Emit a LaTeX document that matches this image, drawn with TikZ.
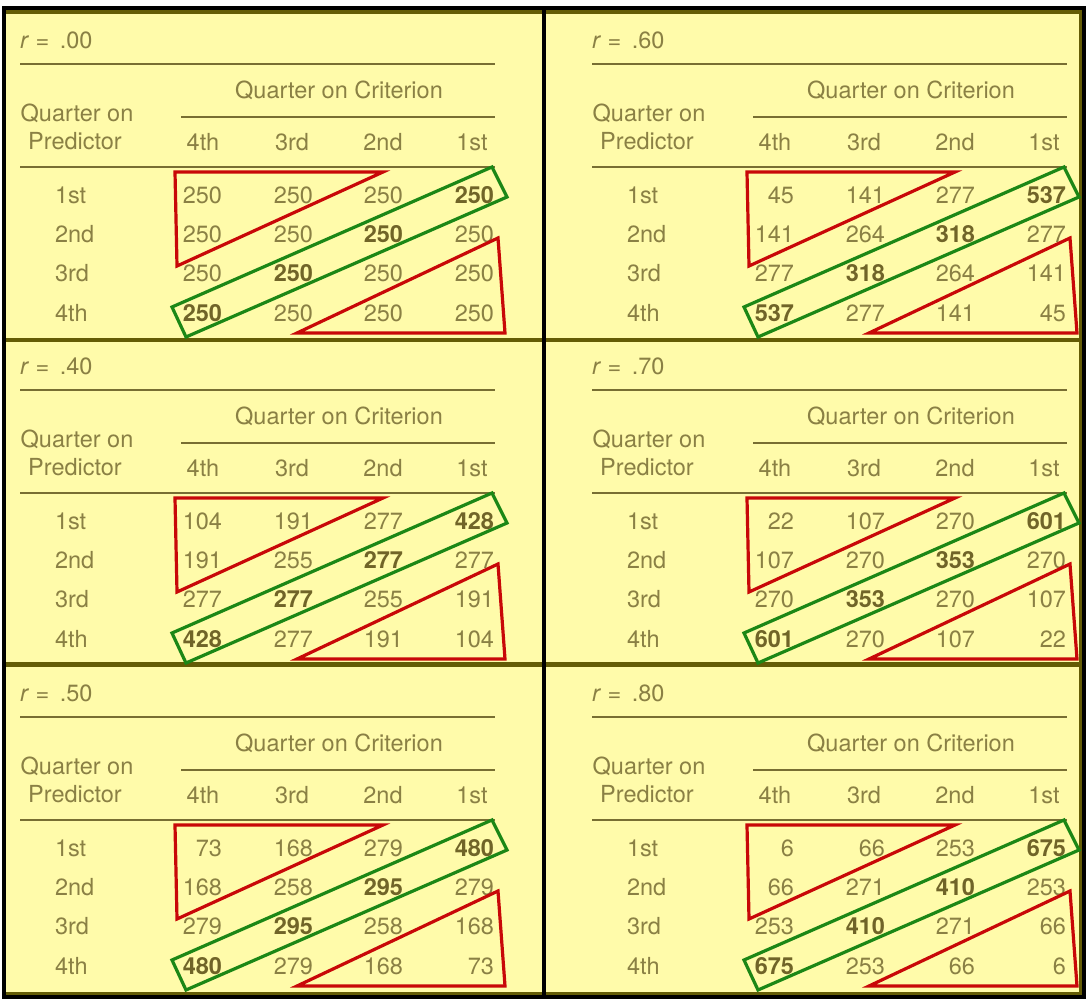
\documentclass[tikz,border=0pt]{standalone}
\usepackage{fontspec}
\setmainfont{TeX Gyre Heros}
\definecolor{bg}{RGB}{255,251,170}
\definecolor{txt}{RGB}{138,128,68}
\definecolor{btxt}{RGB}{112,100,40}
\definecolor{rulec}{RGB}{120,110,50}
\definecolor{olive}{RGB}{100,92,5}
\definecolor{redline}{RGB}{200,8,8}
\definecolor{greenline}{RGB}{28,135,22}
\tikzset{
  lbl/.style={inner sep=0pt, outer sep=0pt, text=txt, font=\fontsize{23.5}{28}\selectfont},
  numr/.style={lbl, anchor=base east},
  hdr/.style={lbl, anchor=base},
  rowlbl/.style={lbl, anchor=base west},
  tabrule/.style={draw=rulec, line width=1.6pt},
  redtri/.style={draw=redline, line width=3.2pt, line join=miter},
  greenbox/.style={draw=greenline, line width=3.2pt, line join=miter},
  panelframe/.style={draw=olive, line width=4.5pt},
}
\newcommand\B[1]{{\bfseries\color{btxt}#1}}
\newcommand\qrow[8]{%
  \node[rowlbl] (#1-p#2) at (55,#4) {#3};
  \node[numr] (#1-#2a) at (222,#4) {#5};
  \node[numr] (#1-#2b) at (313,#4) {#6};
  \node[numr] (#1-#2c) at (403,#4) {#7};
  \node[numr] (#1-#2d) at (494,#4) {#8};
}
\newcommand\qhead[2]{%
  \node[lbl, anchor=base west] (#1-r) at (20,48) {\textit{r} = \kern4pt.#2};
  \draw[tabrule] (20,64) -- (495,64);
  \node[hdr] (#1-qc) at (339,98) {Quarter on Criterion};
  \draw[tabrule] (181,117) -- (495,117);
  \node[hdr] (#1-q1) at (77,121) {Quarter on};
  \node[hdr] (#1-q2) at (75,149) {Predictor};
  \node[hdr] (#1-h4) at (203,150) {4th};
  \node[hdr] (#1-h3) at (292,150) {3rd};
  \node[hdr] (#1-h2) at (383,150) {2nd};
  \node[hdr] (#1-h1) at (472,150) {1st};
  \draw[tabrule] (20,167) -- (495,167);
}
\newcommand\qmarks{%
  \draw[redtri] (175,172) -- (383,172) -- (177,266) -- cycle;
  \draw[redtri] (498,238) -- (505,333) -- (297,333) -- cycle;
  \draw[greenbox] (492,167) -- (507,197) -- (186,337) -- (172,307) -- cycle;
}
\newcommand\qpanel[7]{% id, dx, dy, r, rows...
  \begin{scope}[shift={(#2,#3)}]
    \qhead{#1}{#4}
    #5
    #6
    #7
    \qmarks
  \end{scope}
}
\begin{document}
\begin{tikzpicture}[x=1pt, y=-1pt]
  \useasboundingbox (0,0) rectangle (1088,1004);
  \fill[white] (0,0) rectangle (1088,1004);
  \fill[bg] (4,8) rectangle (1084,997);
  % panel frames
  \draw[panelframe] (4,11.5) -- (1084,11.5);
  \draw[panelframe] (4,340) -- (1084,340);
  \draw[panelframe] (4,664.5) -- (1084,664.5);
  \draw[panelframe] (4,994) -- (1084,994);
  \draw[panelframe] (1081,8) -- (1081,997);
  % panel r = .00
  \qpanel{pa}{0}{0}{00}
    {\qrow{pa}{1}{1st}{203}{250}{250}{250}{\B{250}}
     \qrow{pa}{2}{2nd}{242}{250}{250}{\B{250}}{250}}
    {\qrow{pa}{3}{3rd}{281}{250}{\B{250}}{250}{250}}
    {\qrow{pa}{4}{4th}{321}{\B{250}}{250}{250}{250}}
  % panel r = .60
  \qpanel{pb}{572}{0}{60}
    {\qrow{pb}{1}{1st}{203}{45}{141}{277}{\B{537}}
     \qrow{pb}{2}{2nd}{242}{141}{264}{\B{318}}{277}}
    {\qrow{pb}{3}{3rd}{281}{277}{\B{318}}{264}{141}}
    {\qrow{pb}{4}{4th}{321}{\B{537}}{277}{141}{45}}
  % panel r = .40
  \qpanel{pc}{0}{326}{40}
    {\qrow{pc}{1}{1st}{203}{104}{191}{277}{\B{428}}
     \qrow{pc}{2}{2nd}{242}{191}{255}{\B{277}}{277}}
    {\qrow{pc}{3}{3rd}{281}{277}{\B{277}}{255}{191}}
    {\qrow{pc}{4}{4th}{321}{\B{428}}{277}{191}{104}}
  % panel r = .70
  \qpanel{pd}{572}{326}{70}
    {\qrow{pd}{1}{1st}{203}{22}{107}{270}{\B{601}}
     \qrow{pd}{2}{2nd}{242}{107}{270}{\B{353}}{270}}
    {\qrow{pd}{3}{3rd}{281}{270}{\B{353}}{270}{107}}
    {\qrow{pd}{4}{4th}{321}{\B{601}}{270}{107}{22}}
  % panel r = .50
  \qpanel{pe}{0}{653}{50}
    {\qrow{pe}{1}{1st}{203}{73}{168}{279}{\B{480}}
     \qrow{pe}{2}{2nd}{242}{168}{258}{\B{295}}{279}}
    {\qrow{pe}{3}{3rd}{281}{279}{\B{295}}{258}{168}}
    {\qrow{pe}{4}{4th}{321}{\B{480}}{279}{168}{73}}
  % panel r = .80
  \qpanel{pf}{572}{653}{80}
    {\qrow{pf}{1}{1st}{203}{6}{66}{253}{\B{675}}
     \qrow{pf}{2}{2nd}{242}{66}{271}{\B{410}}{253}}
    {\qrow{pf}{3}{3rd}{281}{253}{\B{410}}{271}{66}}
    {\qrow{pf}{4}{4th}{321}{\B{675}}{253}{66}{6}}
  % outer black frame and divider
  \draw[black, line width=4pt] (4,8) rectangle (1084,997);
  \draw[black, line width=4pt] (543.5,8) -- (543.5,997);
\end{tikzpicture}
\end{document}
